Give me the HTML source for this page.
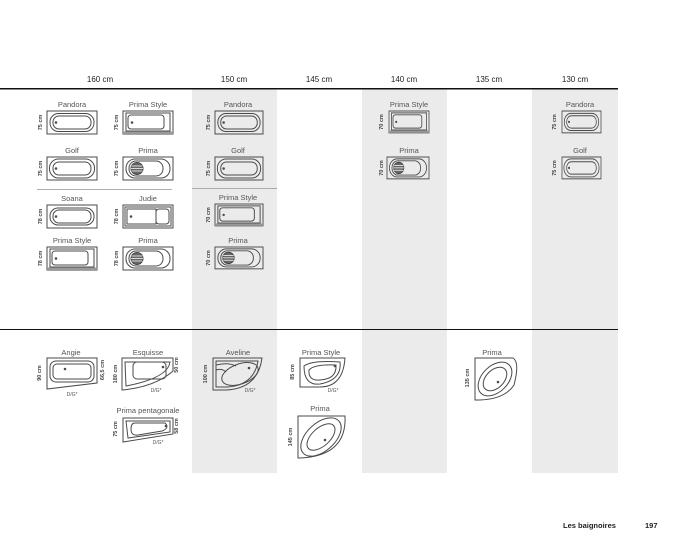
<!DOCTYPE html>
<html><head><meta charset="utf-8"><style>
html,body{margin:0;padding:0;background:#fff;width:676px;height:546px;overflow:hidden}
svg{display:block}
text{font-family:"Liberation Sans",sans-serif}
.l{font-size:7.5px;fill:#555;text-anchor:middle}
.h{font-size:8px;fill:#222;text-anchor:middle}
.d{font-size:5.5px;fill:#444;font-weight:bold;text-anchor:middle}
.s{font-size:5px;fill:#555;text-anchor:middle}
.t{fill:none;stroke:#4a4a4a;stroke-width:1}
</style></head><body>
<svg width="676" height="546" viewBox="0 0 676 546">
<defs>
<g id="pandora" class="t"><rect x="0" y="0" width="50" height="23"/><rect x="3" y="2.5" width="44" height="18" rx="8.5"/><rect x="6" y="5" width="38" height="13" rx="6"/><circle cx="9" cy="11.5" r="0.8" fill="#555"/></g>
<g id="golf" class="t"><rect x="0" y="0" width="50" height="23"/><rect x="2.5" y="2" width="45" height="19" rx="9"/><rect x="6" y="5" width="38" height="13" rx="6"/><circle cx="9" cy="11.5" r="0.8" fill="#555"/></g>
<g id="pstyle" class="t"><rect x="0" y="0" width="50" height="23"/><rect x="0" y="20.5" width="50" height="2.5" fill="#999" stroke="none"/><rect x="3" y="2" width="44" height="18"/><rect x="5" y="4" width="36" height="14" rx="3"/><circle cx="9" cy="11.5" r="0.8" fill="#555"/></g>
<g id="prima" class="t"><rect x="0" y="0" width="50" height="23"/><rect x="3" y="2" width="44" height="19" rx="9"/><rect x="6" y="4" width="34" height="15" rx="7"/><circle cx="14" cy="11.5" r="6" fill="#666" stroke="#444"/><path d="M8.5 9H19.5M8 11.5H20M8.5 14H19.5" stroke="#fff" stroke-width="0.8"/></g>
<g id="soana" class="t"><rect x="0" y="0" width="50" height="23"/><rect x="3" y="3" width="44" height="17" rx="8"/><rect x="6" y="5" width="38" height="13" rx="6"/><circle cx="9" cy="11.5" r="0.8" fill="#555"/></g>
<g id="judie" class="t"><rect x="0" y="0" width="50" height="23"/><rect x="2" y="2" width="46" height="19"/><rect x="4" y="4" width="29" height="15"/><rect x="33" y="4" width="13" height="15" rx="3"/><circle cx="8" cy="11.5" r="0.8" fill="#555"/></g>
</defs>
<rect x="192" y="89" width="85" height="384" fill="#ebebeb"/>
<rect x="362" y="89" width="85" height="384" fill="#ebebeb"/>
<rect x="532" y="89" width="86" height="384" fill="#ebebeb"/>
<text class="h" x="100" y="82">160 cm</text><text class="h" x="234" y="82">150 cm</text><text class="h" x="319" y="82">145 cm</text><text class="h" x="404" y="82">140 cm</text><text class="h" x="489" y="82">135 cm</text><text class="h" x="575" y="82">130 cm</text>
<rect x="0" y="88" width="618" height="1.5" fill="#111"/>
<rect x="0" y="329" width="618" height="1" fill="#111"/>
<rect x="37" y="189" width="135" height="0.8" fill="#999"/>
<rect x="192" y="188" width="85" height="0.8" fill="#999"/>

<text class="l" x="72" y="107">Pandora</text><use href="#pandora" x="47" y="111"/><text class="d" transform="translate(42,122.5) rotate(-90)">75 cm</text>
<text class="l" x="72" y="153">Golf</text><use href="#golf" x="47" y="157"/><text class="d" transform="translate(42,168.5) rotate(-90)">75 cm</text>
<text class="l" x="72" y="201">Soana</text><use href="#soana" x="47" y="205"/><text class="d" transform="translate(42,216.5) rotate(-90)">78 cm</text>
<text class="l" x="72" y="243">Prima Style</text><use href="#pstyle" x="47" y="247"/><text class="d" transform="translate(42,258.5) rotate(-90)">78 cm</text>

<text class="l" x="148" y="107">Prima Style</text><use href="#pstyle" x="123" y="111"/><text class="d" transform="translate(118,122.5) rotate(-90)">75 cm</text>
<text class="l" x="148" y="153">Prima</text><use href="#prima" x="123" y="157"/><text class="d" transform="translate(118,168.5) rotate(-90)">75 cm</text>
<text class="l" x="148" y="201">Judie</text><use href="#judie" x="123" y="205"/><text class="d" transform="translate(118,216.5) rotate(-90)">78 cm</text>
<text class="l" x="148" y="243">Prima</text><use href="#prima" x="123" y="247"/><text class="d" transform="translate(118,258.5) rotate(-90)">78 cm</text>

<text class="l" x="238" y="107">Pandora</text><use href="#pandora" transform="translate(215,111) scale(0.96,1)"/><text class="d" transform="translate(210,122.5) rotate(-90)">75 cm</text>
<text class="l" x="238" y="153">Golf</text><use href="#golf" transform="translate(215,157) scale(0.96,1)"/><text class="d" transform="translate(210,168.5) rotate(-90)">75 cm</text>
<text class="l" x="238" y="200">Prima Style</text><use href="#pstyle" transform="translate(215,204) scale(0.96,0.95)"/><text class="d" transform="translate(210,215) rotate(-90)">70 cm</text>
<text class="l" x="238" y="243">Prima</text><use href="#prima" transform="translate(215,247) scale(0.96,0.95)"/><text class="d" transform="translate(210,258) rotate(-90)">70 cm</text>

<text class="l" x="409" y="107">Prima Style</text><use href="#pstyle" transform="translate(389,111) scale(0.8,0.95)"/><text class="d" transform="translate(383,122) rotate(-90)">70 cm</text>
<text class="l" x="409" y="153">Prima</text><use href="#prima" transform="translate(387,157) scale(0.84,0.95)"/><text class="d" transform="translate(383,168) rotate(-90)">70 cm</text>

<text class="l" x="580" y="107">Pandora</text><use href="#pandora" transform="translate(562,111) scale(0.78,0.95)"/><text class="d" transform="translate(556,122) rotate(-90)">75 cm</text>
<text class="l" x="580" y="153">Golf</text><use href="#golf" transform="translate(562,157) scale(0.78,0.95)"/><text class="d" transform="translate(556,168) rotate(-90)">75 cm</text>

<text class="l" x="71" y="355">Angie</text>
<g class="t"><path d="M47 358H97V383L47 389Z"/><rect x="50" y="361" width="44" height="21" rx="6"/><rect x="53" y="364" width="38" height="15" rx="4"/><circle cx="65" cy="369" r="0.8" fill="#555"/></g>
<text class="d" transform="translate(41,373) rotate(-90)">90 cm</text><text class="d" transform="translate(104,370) rotate(-90)">66,5 cm</text><text class="s" x="72" y="396">D/G*</text>

<text class="l" x="148" y="355">Esquisse</text>
<g class="t"><path d="M122 358H173V371Q155 387 122 390Z"/><path d="M125 362H170Q168 378 126 386Z"/><rect x="133" y="362" width="33" height="17" rx="4"/><circle cx="163" cy="367" r="0.8" fill="#555"/></g>
<text class="d" transform="translate(117,374) rotate(-90)">180 cm</text><text class="d" transform="translate(178,365) rotate(-90)">50 cm</text><text class="s" x="156" y="392">D/G*</text>

<text class="l" x="148" y="413">Prima pentagonale</text>
<g class="t"><path d="M123 418H173V434L123 442Z"/><path d="M126 421H170V432L128 438Z"/><path d="M135 423H165Q170 428 162 431L138 435Q131 436 131 429Q131 423 135 423Z"/><circle cx="166" cy="426" r="0.8" fill="#555"/></g>
<text class="d" transform="translate(117,429) rotate(-90)">75 cm</text><text class="d" transform="translate(178,426) rotate(-90)">58 cm</text><text class="s" x="158" y="444">D/G*</text>

<text class="l" x="238" y="355">Aveline</text>
<g class="t"><path d="M213 358H262Q258 388 227 390H213Z"/><path d="M216 361H258Q254 385 228 387H216Z"/><ellipse cx="240" cy="374" rx="19" ry="10" transform="rotate(-20 240 374)"/><path d="M216 365Q228 362 236 366M216 370Q222 368 226 372"/><circle cx="249" cy="368" r="0.8" fill="#555"/></g>
<text class="d" transform="translate(207,374) rotate(-90)">100 cm</text><text class="s" x="250" y="392">D/G*</text>

<text class="l" x="321" y="355">Prima Style</text>
<g class="t"><path d="M300 358H345Q343 387 320 387H300Z"/><path d="M304 366Q312 360 340 362Q342 380 320 384Q304 386 304 366Z"/><path d="M309 370Q314 364 336 365Q337 379 320 380Q308 381 309 370Z"/><circle cx="335" cy="366" r="0.8" fill="#555"/></g>
<text class="d" transform="translate(294,372) rotate(-90)">85 cm</text><text class="s" x="333" y="392">D/G*</text>

<text class="l" x="320" y="411">Prima</text>
<g class="t"><path d="M298 416H345Q347 456 300 458H298Z"/><ellipse cx="321" cy="437" rx="24" ry="14" transform="rotate(-42 321 437)"/><ellipse cx="321" cy="437" rx="17" ry="9" transform="rotate(-42 321 437)"/><circle cx="325" cy="440" r="0.8" fill="#555"/></g>
<text class="d" transform="translate(292,437) rotate(-90)">145 cm</text>

<text class="l" x="492" y="355">Prima</text>
<g class="t"><path d="M475 358H513Q520 362 514 385Q505 399 480 400H475Z"/><ellipse cx="495" cy="379" rx="20" ry="13" transform="rotate(-45 495 379)"/><ellipse cx="495" cy="379" rx="14" ry="9" transform="rotate(-45 495 379)"/><circle cx="498" cy="382" r="0.8" fill="#555"/></g>
<text class="d" transform="translate(469,378) rotate(-90)">135 cm</text>

<text x="563" y="528" style="font-size:7.5px;font-weight:bold;fill:#222">Les baignoires</text>
<text x="645" y="528" style="font-size:7.5px;font-weight:bold;fill:#222">197</text>
</svg>
</body></html>
